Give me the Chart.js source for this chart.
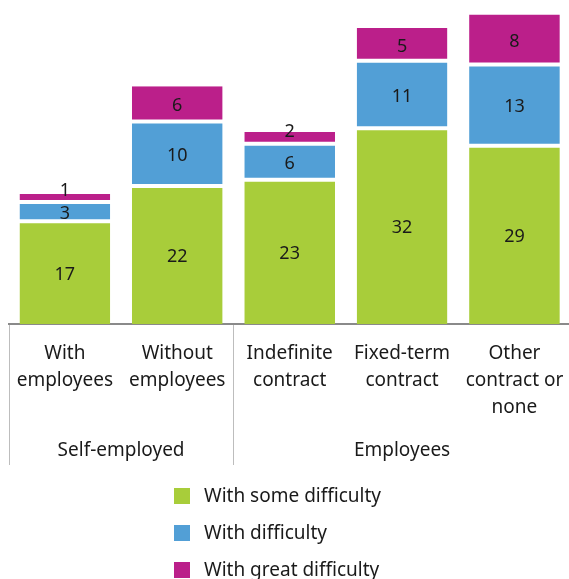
<!DOCTYPE html>
<html>
<head>
<meta charset="utf-8">
<script src="https://cdn.jsdelivr.net/npm/chart.js@4/dist/chart.umd.min.js"></script>
<style>
html, body { margin: 0; padding: 0; overflow: hidden; background: #fff; }
#wrap { width: 580px; height: 579px; position: relative; }
</style>
</head>
<body>
<div id="wrap"><canvas id="c"></canvas></div>
<script>
// ---- data (labels show rounded values) ----
const categories = [
  ["With", "employees"],
  ["Without", "employees"],
  ["Indefinite", "contract"],
  ["Fixed-term", "contract"],
  ["Other", "contract or", "none"]
];
const groups = ["Self-employed", "Employees"];
const groupRanges = [[0, 1], [2, 4]];
const seriesNames = ["With some difficulty", "With difficulty", "With great difficulty"];
const someDifficulty = [16.6, 22.3, 23.3, 31.6, 28.8];
const withDifficulty = [3.1, 10.4, 5.8, 10.9, 13.1];
const greatDifficulty = [1.3, 5.7, 1.9, 5.3, 8.1];
const colors = ["#a8cd3a", "#529fd6", "#bb1f8a"];

const FONT = "'Noto Sans', sans-serif";
const TEXT = "#1a1a1a";

const labelPlugin = {
  id: 'segLabels',
  afterDatasetsDraw(chart) {
    const ctx = chart.ctx;
    ctx.save();
    ctx.font = "18px " + FONT;
    ctx.fillStyle = TEXT;
    ctx.textAlign = "center";
    ctx.textBaseline = "middle";
    chart.data.datasets.forEach((ds, di) => {
      const meta = chart.getDatasetMeta(di);
      meta.data.forEach((bar, i) => {
        const p = bar.getProps(['x', 'y', 'base'], true);
        const h = p.base - p.y;
        const y = h < 16 ? p.base - 11.5 : (p.y + p.base) / 2 + 2;
        ctx.fillText(String(Math.round(ds.data[i])), p.x, y);
      });
    });
    ctx.restore();
  }
};

const axisDecor = {
  id: 'axisDecor',
  afterDraw(chart) {
    const ctx = chart.ctx;
    const xs = chart.scales.x;
    const area = chart.chartArea;
    const step = xs.getPixelForValue(1) - xs.getPixelForValue(0);
    ctx.save();
    ctx.strokeStyle = "#bdbdbd";
    ctx.lineWidth = 1;
    groupRanges.forEach(r => {
      const x = Math.round(xs.getPixelForValue(r[0]) - step / 2) + 0.5;
      ctx.beginPath();
      ctx.moveTo(x, area.bottom + 1);
      ctx.lineTo(x, 465);
      ctx.stroke();
    });
    ctx.font = "19px " + FONT;
    ctx.fillStyle = TEXT;
    ctx.textAlign = "center";
    ctx.textBaseline = "middle";
    groups.forEach((g, gi) => {
      const r = groupRanges[gi];
      const x = (xs.getPixelForValue(r[0]) + xs.getPixelForValue(r[1])) / 2;
      ctx.fillText(g, x, 451);
    });
    chart.data.datasets.forEach((ds, di) => {
      const y = 496 + di * 37;
      ctx.fillStyle = ds.backgroundColor;
      ctx.fillRect(174, y - 8, 16, 16);
      ctx.fillStyle = TEXT;
      ctx.textAlign = "left";
      ctx.fillText(ds.label, 204, y + 1);
    });
    ctx.restore();
  }
};

const seriesData = [someDifficulty, withDifficulty, greatDifficulty];
const lastIdx = seriesData.length - 1;

new Chart(document.getElementById('c'), {
  type: 'bar',
  data: {
    labels: categories,
    datasets: seriesNames.map((n, i) => ({
      label: n,
      data: seriesData[i],
      backgroundColor: colors[i],
      borderColor: "#ffffff",
      borderWidth: { top: i === lastIdx ? 0 : 2, bottom: i === 0 ? 0 : 2, left: 0, right: 0 },
      borderSkipped: false,
      categoryPercentage: 1,
      barPercentage: 0.807
    }))
  },
  options: {
    responsive: true,
    maintainAspectRatio: false,
    animation: false,
    layout: { padding: { left: 8, right: 8, top: 2, bottom: 142 } },
    plugins: { legend: { display: false }, tooltip: { enabled: false } },
    scales: {
      x: {
        stacked: true,
        grid: { display: false, drawTicks: false },
        border: { display: true, color: "#8a8a8a", width: 2 },
        ticks: {
          color: TEXT,
          font: { family: FONT, size: 19, lineHeight: 1.42 },
          padding: 16,
          maxRotation: 0,
          autoSkip: false
        }
      },
      y: {
        stacked: true,
        display: false,
        min: 0,
        max: 52
      }
    }
  },
  plugins: [labelPlugin, axisDecor]
});
</script>
</body>
</html>
